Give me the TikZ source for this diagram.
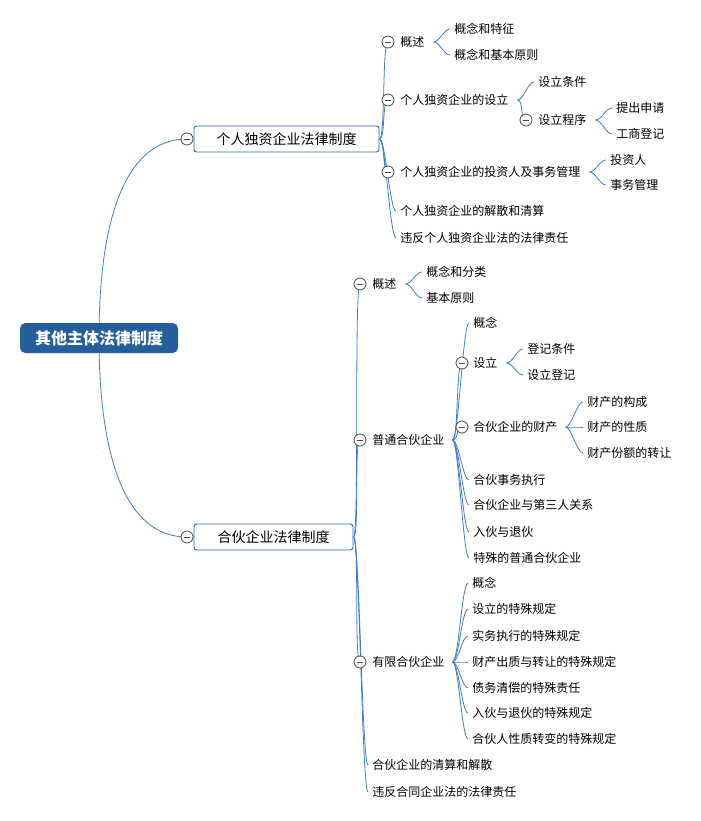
\documentclass[tikz,border=0pt]{standalone}
\usepackage{fontspec}
\setmainfont{Noto Sans CJK SC}
\usetikzlibrary{backgrounds}

\definecolor{linkblue}{HTML}{3B7DCB}
\definecolor{boxblue}{HTML}{2C68AE}
\definecolor{rootblue}{HTML}{245E9C}
\definecolor{foldgray}{HTML}{4A4A4A}

\tikzset{
  leaf/.style={anchor=west,inner sep=0pt,font=\fontsize{9}{10}\selectfont},
  fold/.style={circle,draw=foldgray,fill=white,minimum size=9pt,inner sep=0pt,line width=0.6pt,
    path picture={\draw[foldgray,line width=0.6pt] ([xshift=-2.6pt]path picture bounding box.center) -- ([xshift=2.6pt]path picture bounding box.center);}},
  topic/.style={draw=boxblue,fill=white,rounded corners=2pt,line width=0.7pt,inner sep=0pt,
    minimum height=19.5pt,font=\fontsize{10.5}{12}\selectfont},
  link/.style={draw=linkblue,line width=0.6pt}
}
% S-shaped connector between two points
\newcommand{\branch}[2]{\draw[link] (#1) .. controls +(6,0) and +(-6,0) .. (#2);}

\begin{document}
\begin{tikzpicture}[x=0.75pt,y=-0.75pt]
\useasboundingbox (0,0) rectangle (700,821);

\node[fill=rootblue,text=white,rounded corners=4pt,inner sep=0pt,minimum width=118.5pt,minimum height=22.5pt,
  font=\bfseries\fontsize{12}{14}\selectfont] (root) at (99,338) {其他主体法律制度};

\node[topic,minimum width=138.75pt] (sole) at (286.5,139) {个人独资企业法律制度};
\node[fold] (fsole) at (187,139) {};
\node[topic,minimum width=119.25pt] (part) at (273.5,537) {合伙企业法律制度};
\node[fold] (fpart) at (187,537) {};

% sole proprietorship
\node[fold] (fs1) at (388,42) {};
\node[leaf] (s1) at (400,42) {概述};
\node[fold] (fs2) at (388,100) {};
\node[leaf] (s2) at (400,100) {个人独资企业的设立};
\node[fold] (fs3) at (388,172) {};
\node[leaf] (s3) at (400,172) {个人独资企业的投资人及事务管理};
\node[leaf] (s4) at (400,211) {个人独资企业的解散和清算};
\node[leaf] (s5) at (400,238) {违反个人独资企业法的法律责任};
\node[leaf] (s11) at (454,29) {概念和特征};
\node[leaf] (s12) at (454,55) {概念和基本原则};
\node[leaf] (s21) at (538,82) {设立条件};
\node[fold] (fs22) at (526,120) {};
\node[leaf] (s22) at (538,120) {设立程序};
\node[leaf] (s221) at (616,108) {提出申请};
\node[leaf] (s222) at (616,134) {工商登记};
\node[leaf] (s31) at (610,160) {投资人};
\node[leaf] (s32) at (610,185) {事务管理};

% partnership
\node[fold] (fp1) at (360,284) {};
\node[leaf] (p1) at (372,284) {概述};
\node[leaf] (p11) at (426,272) {概念和分类};
\node[leaf] (p12) at (426,298) {基本原则};
\node[fold] (fp2) at (360,440) {};
\node[leaf] (p2) at (372,440) {普通合伙企业};
\node[leaf] (p21) at (473,323) {概念};
\node[fold] (fp22) at (462,363) {};
\node[leaf] (p22) at (473,363) {设立};
\node[leaf] (p221) at (527,349) {登记条件};
\node[leaf] (p222) at (527,375) {设立登记};
\node[fold] (fp23) at (462,427) {};
\node[leaf] (p23) at (473,427) {合伙企业的财产};
\node[leaf] (p231) at (587,402) {财产的构成};
\node[leaf] (p232) at (587,427) {财产的性质};
\node[leaf] (p233) at (587,453) {财产份额的转让};
\node[leaf] (p24) at (473,480) {合伙事务执行};
\node[leaf] (p25) at (473,505) {合伙企业与第三人关系};
\node[leaf] (p26) at (473,532) {入伙与退伙};
\node[leaf] (p27) at (473,558) {特殊的普通合伙企业};
\node[fold] (fp3) at (360,662) {};
\node[leaf] (p3) at (372,662) {有限合伙企业};
\node[leaf] (p31) at (472,583) {概念};
\node[leaf] (p32) at (472,609) {设立的特殊规定};
\node[leaf] (p33) at (472,636) {实务执行的特殊规定};
\node[leaf] (p34) at (472,662) {财产出质与转让的特殊规定};
\node[leaf] (p35) at (472,688) {债务清偿的特殊责任};
\node[leaf] (p36) at (472,713) {入伙与退伙的特殊规定};
\node[leaf] (p37) at (472,739) {合伙人性质转变的特殊规定};
\node[leaf] (p4) at (372,765) {合伙企业的清算和解散};
\node[leaf] (p5) at (372,792) {违反合同企业法的法律责任};

\begin{scope}[on background layer]
\draw[link] (root.center) .. controls +(0,-118) and +(-62,0) .. (fsole.center);
\draw[link] (root.center) .. controls +(0,118) and +(-62,0) .. (fpart.center);

\foreach \n in {fs1,fs2,fs3} \branch{sole.east}{\n.center};
\foreach \n in {s4,s5} \branch{sole.east}{[xshift=-3pt]\n.west};
\foreach \n in {s11,s12} \branch{[xshift=6.75pt]s1.east}{[xshift=-3pt]\n.west};
\branch{[xshift=6.75pt]s2.east}{[xshift=-3pt]s21.west};
\branch{[xshift=6.75pt]s2.east}{fs22.center};
\foreach \n in {s221,s222} \branch{[xshift=6.75pt]s22.east}{[xshift=-3pt]\n.west};
\foreach \n in {s31,s32} \branch{[xshift=6.75pt]s3.east}{[xshift=-3pt]\n.west};

\foreach \n in {fp1,fp2,fp3} \branch{part.east}{\n.center};
\foreach \n in {p4,p5} \branch{part.east}{[xshift=-3pt]\n.west};
\foreach \n in {p11,p12} \branch{[xshift=6.75pt]p1.east}{[xshift=-3pt]\n.west};
\foreach \n in {p21,p24,p25,p26,p27} \branch{[xshift=6pt]p2.east}{[xshift=-3pt]\n.west};
\foreach \n in {fp22,fp23} \branch{[xshift=6pt]p2.east}{\n.center};
\foreach \n in {p221,p222} \branch{[xshift=6.75pt]p22.east}{[xshift=-3pt]\n.west};
\foreach \n in {p231,p232,p233} \branch{[xshift=6pt]p23.east}{[xshift=-3pt]\n.west};
\foreach \n in {p31,p32,p33,p34,p35,p36,p37} \branch{[xshift=6pt]p3.east}{[xshift=-3pt]\n.west};
\end{scope}
\end{tikzpicture}
\end{document}
